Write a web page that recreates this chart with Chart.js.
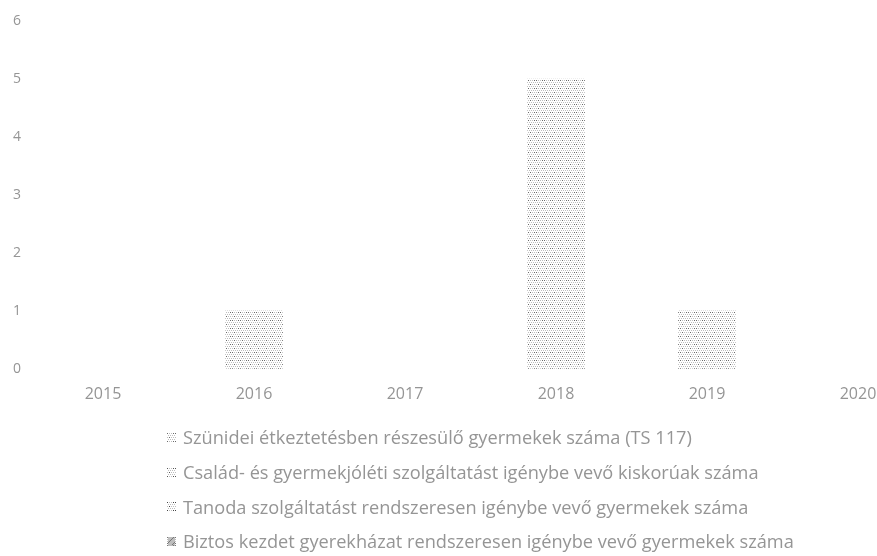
<!DOCTYPE html>
<html>
<head>
<meta charset="utf-8">
<script src="https://cdn.jsdelivr.net/npm/chart.js@4"></script>
<style>
    body { margin: 0; background: #fff; font-family: "Open Sans", sans-serif; }
    #legend { margin: 8px 0 0 167px; color: #959595; font-size: 18.2px; }
    #legend .item { height: 34.7px; display: flex; align-items: center; }
    #legend canvas { margin-right: 7px; }
</style>
</head>
<body>
<canvas id="chart" width="877" height="412"></canvas>
<div id="legend"></div>
<script>
    const years = ['2015', '2016', '2017', '2018', '2019', '2020'];
    const seriesNames = [
        'Szünidei étkeztetésben részesülő gyermekek száma (TS 117)',
        'Család- és gyermekjóléti szolgáltatást igénybe vevő kiskorúak száma',
        'Tanoda szolgáltatást rendszeresen igénybe vevő gyermekek száma',
        'Biztos kezdet gyerekházat rendszeresen igénybe vevő gyermekek száma'
    ];
    const szunidei = [null, 1, null, 5, 1, null];
    const csalad = [null, null, null, null, null, null];
    const tanoda = [null, null, null, null, null, null];
    const biztos = [null, null, null, null, null, null];
    const yTicks = [0, 1, 2, 3, 4, 5, 6];

    // stippled fills, one per series
    function makePattern(step, dark) {
        const c = document.createElement('canvas');
        c.width = 8; c.height = 8;
        const g = c.getContext('2d');
        g.fillStyle = '#ffffff';
        g.fillRect(0, 0, 8, 8);
        for (let y = 0; y < 8; y += step) {
            for (let x = (y / step) % 2; x < 8; x += step) {
                g.fillStyle = (x + y) % 6 === 0 ? dark : '#bdbdbd';
                g.fillRect(x, y, 1, 1);
            }
        }
        return g.createPattern(c, 'repeat');
    }
    const patterns = [
        makePattern(2, '#6a6a6a'),
        makePattern(2, '#555555'),
        makePattern(2, '#444444'),
        makePattern(1, '#777777')
    ];

    const values = [szunidei, csalad, tanoda, biztos];
    const ctx = document.getElementById('chart').getContext('2d');
    const chart = new Chart(ctx, {
        type: 'bar',
        data: {
            labels: years,
            datasets: seriesNames.map((name, i) => ({
                label: name,
                data: values[i],
                backgroundColor: patterns[i],
                borderWidth: 0,
                barThickness: 57
            }))
        },
        options: {
            responsive: false,
            animation: false,
            layout: { padding: { top: 21, right: 19, left: 13, bottom: 0 } },
            plugins: { legend: { display: false }, tooltip: { enabled: false } },
            scales: {
                x: {
                    stacked: true,
                    offset: false,
                    afterFit: (scale) => { scale.paddingRight = 0; scale.paddingLeft = 0; },
                    grid: { display: false },
                    border: { display: false },
                    ticks: { color: '#959595', padding: 8, font: { family: 'Open Sans', size: 16 }, maxRotation: 0 }
                },
                y: {
                    stacked: true,
                    min: 0,
                    max: 6,
                    afterFit: (scale) => { scale.width = 90; },
                    afterBuildTicks: (scale) => { scale.ticks = yTicks.map(v => ({ value: v })); },
                    grid: { display: false },
                    border: { display: false },
                    ticks: { color: '#959595', padding: 0, crossAlign: 'far', font: { family: 'Open Sans', size: 14 } }
                }
            }
        }
    });

    // legend below, items left-aligned in one column
    const legendEl = document.getElementById('legend');
    chart.data.datasets.forEach((ds) => {
        const item = document.createElement('div');
        item.className = 'item';
        const sw = document.createElement('canvas');
        sw.width = 9; sw.height = 9;
        const sg = sw.getContext('2d');
        sg.fillStyle = ds.backgroundColor;
        sg.fillRect(0, 0, 9, 9);
        const txt = document.createElement('span');
        txt.textContent = ds.label;
        item.appendChild(sw);
        item.appendChild(txt);
        legendEl.appendChild(item);
    });
</script>
</body>
</html>
